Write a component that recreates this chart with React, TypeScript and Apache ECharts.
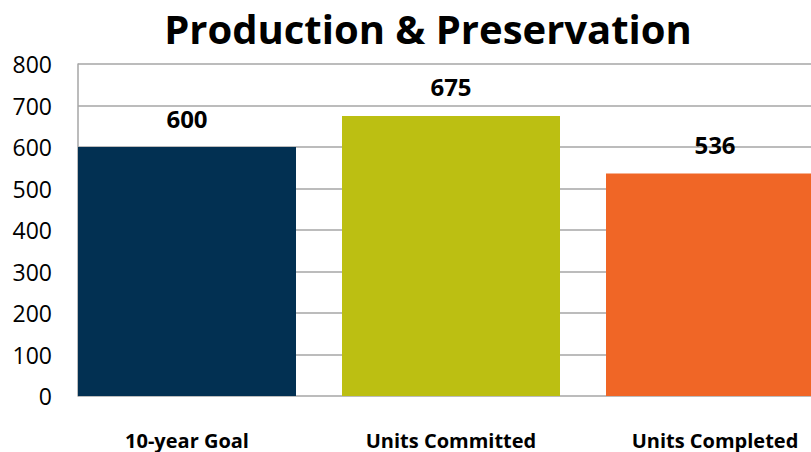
import React, { useEffect, useRef } from "react";
import * as echarts from "echarts";

const titleText = "Production & Preservation";
const categories = ["10-year Goal", "Units Committed", "Units Completed"];
const values = [600, 675, 536];
const barColors = ["#023052", "#BCBF12", "#F06626"];
const yTicks = { min: 0, max: 800, interval: 100 };

const FONT = "'Open Sans', sans-serif";

export default function App() {
  const ref = useRef<HTMLDivElement>(null);
  useEffect(() => {
    if (!ref.current) return;
    const chart = echarts.init(ref.current, undefined, { renderer: "svg" });
    chart.setOption({
      animation: false,
      backgroundColor: "#ffffff",
      graphic: [
        {
          type: "text",
          x: 428,
          y: 28,
          style: {
            text: titleText,
            fontFamily: FONT,
            fontWeight: "bold",
            fontSize: 40,
            fill: "#000",
            textAlign: "center",
            textVerticalAlign: "middle",
          },
        },
      ],
      grid: [
        { left: 78, right: 0, top: 64, bottom: 56, outerBoundsMode: "none", containLabel: false },
        { left: 55, right: -36, top: 64, bottom: 56, outerBoundsMode: "none", containLabel: false },
      ],
      xAxis: [
        {
          gridIndex: 0,
          type: "category",
          data: [""],
          axisLine: { show: false },
          axisTick: { show: false },
          axisLabel: { show: false },
          splitLine: { show: false },
        },
        {
          gridIndex: 1,
          type: "category",
          data: categories,
          axisLine: { show: false },
          axisTick: { show: false },
          axisLabel: {
            margin: 34,
            fontFamily: FONT,
            fontWeight: "bold",
            fontSize: 20,
            color: "#000",
          },
        },
      ],
      yAxis: [
        {
          gridIndex: 0,
          type: "value",
          min: yTicks.min,
          max: yTicks.max,
          interval: yTicks.interval,
          axisLine: { show: true, lineStyle: { color: "#a6a6a6", width: 1.5 } },
          axisTick: { show: false },
          axisLabel: {
            margin: 26,
            fontFamily: FONT,
            fontSize: 23,
            color: "#000",
          },
          splitLine: { show: true, lineStyle: { color: "#a6a6a6", width: 1.5 } },
        },
        {
          gridIndex: 1,
          type: "value",
          min: yTicks.min,
          max: yTicks.max,
          interval: yTicks.interval,
          show: false,
          splitLine: { show: false },
        },
      ],
      series: [
        {
          type: "bar",
          xAxisIndex: 1,
          yAxisIndex: 1,
          barWidth: 218,
          z: 5,
          data: values.map((v, i) => ({ value: v, itemStyle: { color: barColors[i] } })),
          label: {
            show: true,
            position: "top",
            distance: 17,
            fontFamily: FONT,
            fontWeight: "bold",
            fontSize: 24,
            color: "#000",
          },
        },
      ],
    });
    return () => chart.dispose();
  }, []);
  return (
    <div
      ref={ref}
      style={{ position: "fixed", left: 0, top: 0, width: 811, height: 452 }}
    />
  );
}
